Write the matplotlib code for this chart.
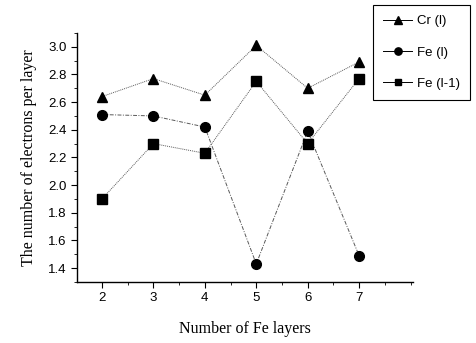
import numpy as np
import matplotlib.pyplot as plt
from matplotlib.ticker import MultipleLocator

# Dados.
layers = [2, 3, 4, 5, 6, 7]
cr_l = [2.64, 2.77, 2.65, 3.01, 2.70, 2.89]
fe_l = [2.51, 2.50, 2.42, 1.43, 2.39, 1.49]
fe_l1 = [1.90, 2.30, 2.23, 2.75, 2.30, 2.77]
labels = ['Cr (l)', 'Fe (l)', 'Fe (l-1)']

fig = plt.figure(figsize=(4.77, 3.43), dpi=100)
ax = fig.add_axes([0.161, 0.178, 0.705, 0.726])

ax.plot(layers, cr_l, color='0.35', lw=0.7, linestyle=(0, (1, 1)), marker='^',
        markersize=7.5, mfc='k', mec='k', label=labels[0])
ax.plot(layers, fe_l, color='0.35', lw=0.7, linestyle=(0, (4, 1.5, 1, 1.5)), marker='o',
        markersize=7, mfc='k', mec='k', label=labels[1])
ax.plot(layers, fe_l1, color='0.35', lw=0.7, linestyle=(0, (1, 1)), marker='s',
        markersize=6.5, mfc='k', mec='k', label=labels[2])

ax.set_xlim(1.51, 8.05)
ax.set_ylim(1.30, 3.10)
ax.set_xticks(layers)
ax.xaxis.set_minor_locator(MultipleLocator(0.5))
ax.yaxis.set_minor_locator(MultipleLocator(0.1))
ax.set_yticks(np.arange(1.4, 3.01, 0.2))
ax.yaxis.set_major_formatter(plt.FormatStrFormatter('%.1f'))

for s in ['top', 'right']:
  ax.spines[s].set_visible(False)
ax.spines['left'].set_linewidth(1.0)
ax.spines['bottom'].set_linewidth(1.0)
ax.tick_params(which='major', direction='out', length=4, width=0.8,
               labelsize=9.5, labelfontfamily='Liberation Sans')
ax.tick_params(which='minor', direction='out', length=2, width=0.6)

ax.set_xlabel('Number of Fe layers', family='Liberation Serif', fontsize=11.5, labelpad=12)
ax.set_ylabel('The number of electrons per layer', family='Liberation Serif', fontsize=11.5, labelpad=8)

leg = fig.legend(loc='upper right', bbox_to_anchor=(0.986, 0.985), borderaxespad=0,
                 fancybox=False, edgecolor='k', framealpha=1, handlelength=2.2,
                 handletextpad=0.4, labelspacing=1.45, borderpad=0.75, markerscale=0.75,
                 prop={'family': 'Liberation Sans', 'size': 9.5})
leg.get_frame().set_linewidth(0.8)
for h in leg.legend_handles:
  h.set_linestyle('-')
  h.set_color('k')

fig.savefig('out.png', dpi=100)
